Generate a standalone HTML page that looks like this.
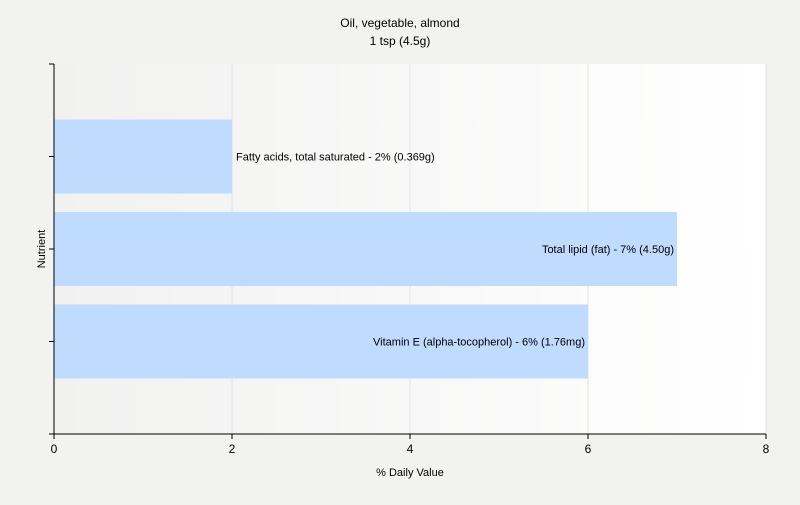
<!DOCTYPE html>
<html><head><meta charset="utf-8"><style>
body{margin:0;background:#f2f2f1;font-family:"Liberation Sans",sans-serif;}
svg text{font-family:"Liberation Sans",sans-serif;fill:#000;}
</style></head><body>
<svg width="800" height="500" viewBox="0 0 800 500">
<defs><linearGradient id="bg" x1="0" x2="1" y1="0" y2="0"><stop offset="0" stop-color="#f1f1f0"/><stop offset="1" stop-color="#ffffff"/></linearGradient></defs>
<rect width="800" height="500" fill="#f2f2f1"/>
<text x="400" y="27" text-anchor="middle" font-size="12">Oil, vegetable, almond</text>
<text x="400" y="45" text-anchor="middle" font-size="12">1 tsp (4.5g)</text>
<rect x="54" y="64" width="712" height="370" fill="url(#bg)"/>
<g id="grid"></g><g id="bars"></g><g id="axes"></g>
<text x="410" y="476" text-anchor="middle" font-size="11">% Daily Value</text>
<text transform="translate(45,249) rotate(-90)" text-anchor="middle" font-size="11">Nutrient</text>
</svg>
<script>
const categories=["Fatty acids, total saturated","Total lipid (fat)","Vitamin E (alpha-tocopherol)"];
const values=[2,7,6];
const amounts=["0.369g","4.50g","1.76mg"];
const xTicks=[0,2,4,6,8];
const NS="http://www.w3.org/2000/svg";
const x0=54,x1=766,y0=64,y1=434,xmax=8;
const xs=v=>x0+v/xmax*(x1-x0);
const slot=(y1-y0)/(categories.length+1);
const ys=i=>y0+slot*(i+1);
function mk(tag,attrs,parent){const e=document.createElementNS(NS,tag);for(const k in attrs)e.setAttribute(k,attrs[k]);document.getElementById(parent).appendChild(e);return e;}
xTicks.forEach(t=>{
 if(t>0){const g=mk('line',{x1:xs(t),x2:xs(t),y1:y0,y2:y1,stroke:'#e2e2e2'},'grid');
 
 }
 const tk=mk('line',{x1:xs(t),x2:xs(t),y1:y1,y2:y1+5,stroke:'#000'},'axes');
 
 
 const l=mk('text',{x:xs(t),y:y1+19,'text-anchor':'middle','font-size':12},'axes');l.textContent=t;
 
 
});
categories.forEach((c,i)=>{
 const cy=ys(i),w=xs(values[i])-x0;
 const b=mk('rect',{x:x0,y:cy-37,width:w,height:74,fill:'#bfdbfe'},'bars');
 
 
 const lab=c+' - '+values[i]+'% ('+amounts[i]+')';
 const inside=values[i]>4;
 const t=mk('text',{x:inside?xs(values[i])-3:xs(values[i])+4,y:cy+4,'text-anchor':inside?'end':'start','font-size':11},'bars');
 t.textContent=lab;
 
 
 const tk=mk('line',{x1:x0-5,x2:x0,y1:cy,y2:cy,stroke:'#000'},'axes');
 
 
});
[y0,y1].forEach((y,j)=>{const tk=mk('line',{x1:x0-5,x2:x0,y1:y,y2:y,stroke:'#000'},'axes');
 
 });
const ya=mk('line',{x1:x0,x2:x0,y1:y0,y2:y1,stroke:'#000'},'axes');


const xa=mk('line',{x1:x0-5,x2:x1,y1:y1,y2:y1,stroke:'#000'},'axes');


</script>
</body></html>
